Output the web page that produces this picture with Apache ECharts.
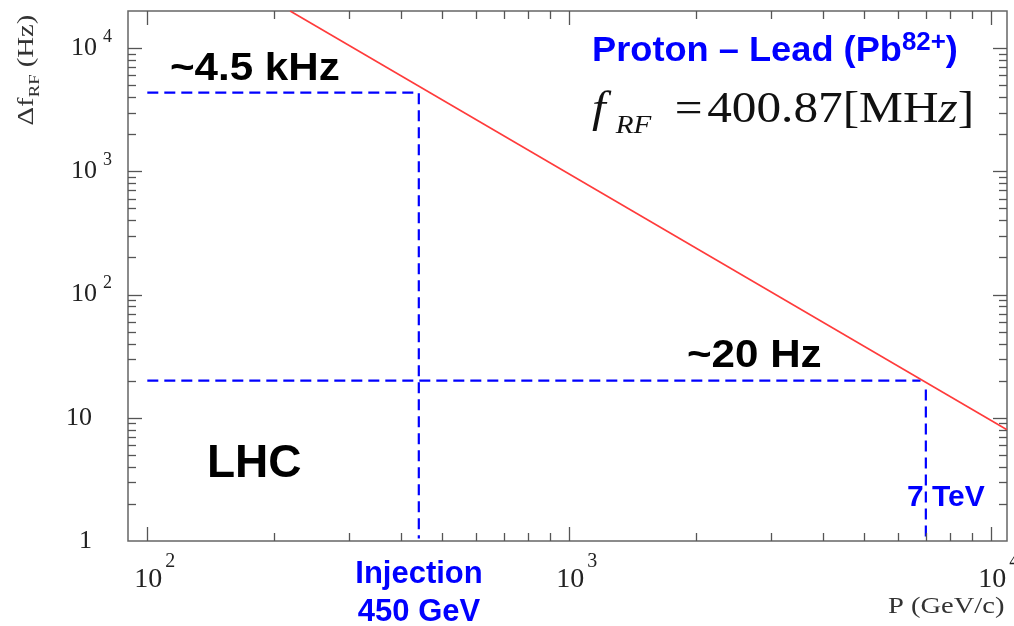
<!DOCTYPE html>
<html><head><meta charset="utf-8">
<script src="https://cdn.jsdelivr.net/npm/echarts@6/dist/echarts.min.js"></script>
<style>html,body{margin:0;padding:0;background:#fff}#c{width:1014px;height:626px}</style>
</head><body><div id="c"></div>
<script>
// ---- data ----
const momentumGeV = [218, 10900];          // P (GeV/c) at the ends of the red line
const deltaFHz = [20000, 8.0];             // Δf_RF (Hz) at those ends
const injectionLineP = [100, 440, 440];    // dashed guide to ~4.5 kHz / 450 GeV
const injectionLineF = [4350, 4350, 1.05];
const flatTopHP = [100, 6800];             // dashed guide to ~20 Hz
const flatTopHF = [20, 20];
const flatTopVP = [7000, 7000];            // dashed guide down to 7 TeV
const flatTopVF = [17, 1];
const xRange = [90, 10900];
const yRange = [1, 20000];
const xDecades = [10, 100, 1000, 10000];
const yDecades = [1, 10, 100, 1000, 10000];

const serif = 'Liberation Serif';
const sans = 'Liberation Sans';
const blue = '#0000ff';

function zip(a, b) { return a.map((v, i) => [v, b[i]]); }
function tickList(decades, lo, hi) {
  const out = [];
  decades.forEach(d => { for (let m = 1; m <= 9; m++) { const v = m * d; if (v > lo * 1.001 && v < hi * 0.999) out.push({ v: v, major: m === 1 }); } });
  return out;
}
const xTicks = tickList(xDecades, xRange[0], xRange[1]);
const yTicks = tickList(yDecades, yRange[0], yRange[1]);

function isDecade(v) { const e = Math.log10(v); return Math.abs(e - Math.round(e)) < 1e-6; }

const chart = echarts.init(document.getElementById('c'), null, { renderer: 'canvas' });
const dashStyle = { color: blue, width: 2.2, type: [11, 6] };

chart.setOption({
  animation: false,
  backgroundColor: '#fff',
  grid: { left: 128, top: 11, right: 7, bottom: 85, containLabel: false, outerBoundsMode: 'none', show: true, borderColor: '#666', borderWidth: 1.5, backgroundColor: 'transparent' },
  xAxis: {
    type: 'log', logBase: 10, min: xRange[0], max: xRange[1],
    axisLine: { show: false }, axisTick: { show: false }, splitLine: { show: false }, minorTick: { show: false },
    axisLabel: {
      margin: 11, showMinLabel: true, showMaxLabel: true, hideOverlap: false,
      formatter: function (v) { if (!isDecade(v)) return ''; const e = Math.round(Math.log10(v)); return '{b|10}{s|' + e + '}'; },
      rich: {
        b: { fontFamily: serif, fontSize: 28, color: '#222', lineHeight: 56, padding: [0, 0, 0, 15] },
        s: { fontFamily: serif, fontSize: 20, color: '#222', verticalAlign: 'top', padding: [0, 0, 0, 3] }
      }
    }
  },
  yAxis: {
    type: 'log', logBase: 10, min: yRange[0], max: yRange[1],
    axisLine: { show: false }, axisTick: { show: false }, splitLine: { show: false }, minorTick: { show: false },
    axisLabel: {
      margin: 16, showMinLabel: true, showMaxLabel: true, hideOverlap: false,
      formatter: function (v) {
        if (!isDecade(v)) return '';
        const e = Math.round(Math.log10(v));
        if (e === 0) return '{p|1}';
        if (e === 1) return '{p|10}';
        return '{b|10}{s|' + e + '}';
      },
      rich: {
        p: { fontFamily: serif, fontSize: 26, color: '#222', lineHeight: 40, padding: [0, 20, 0, 0] },
        b: { fontFamily: serif, fontSize: 26, color: '#222', lineHeight: 40 },
        s: { fontFamily: serif, fontSize: 18, color: '#222', verticalAlign: 'top', padding: [0, 0, 0, 6] }
      }
    }
  },
  series: [
    { type: 'line', data: zip(momentumGeV, deltaFHz), symbol: 'none', lineStyle: { color: '#ff3b3b', width: 1.6 }, clip: true, silent: true, z: 3 },
    { type: 'line', data: zip(injectionLineP, injectionLineF), symbol: 'none', lineStyle: dashStyle, silent: true, z: 2 },
    { type: 'line', data: zip(flatTopHP, flatTopHF), symbol: 'none', lineStyle: dashStyle, silent: true, z: 2 },
    { type: 'line', data: zip(flatTopVP, flatTopVF), symbol: 'none', lineStyle: dashStyle, silent: true, z: 2 },
    {
      type: 'custom', silent: true, z: 4, data: [[100, 10]],
      renderItem: function (params, api) {
        const cs = params.coordSys;
        const ch = [];
        const st = () => ({ stroke: '#555', lineWidth: 1.3 });
        xTicks.forEach(t => {
          const px = Math.round(api.coord([t.v, 10])[0]) + 0.5;
          const len = t.major ? 14 : 8;
          ch.push({ type: 'line', shape: { x1: px, y1: cs.y + cs.height, x2: px, y2: cs.y + cs.height - len }, style: st() });
          ch.push({ type: 'line', shape: { x1: px, y1: cs.y, x2: px, y2: cs.y + len }, style: st() });
        });
        yTicks.forEach(t => {
          const py = Math.round(api.coord([100, t.v])[1]) + 0.5;
          const len = t.major ? 14 : 8;
          ch.push({ type: 'line', shape: { x1: cs.x, y1: py, x2: cs.x + len, y2: py }, style: st() });
          ch.push({ type: 'line', shape: { x1: cs.x + cs.width, y1: py, x2: cs.x + cs.width - len, y2: py }, style: st() });
        });
        return { type: 'group', children: ch };
      }
    }
  ],
  graphic: [
    { type: 'text', x: 27, y: 70, rotation: Math.PI / 2, scaleX: 1.25, silent: true,
      style: { text: '{a|Δf}{r|RF}{a| (Hz)}', align: 'center', verticalAlign: 'middle',
        rich: { a: { fontFamily: serif, fontSize: 23, fill: '#333', lineHeight: 32 }, r: { fontFamily: serif, fontSize: 15, fill: '#333', verticalAlign: 'bottom' } } } },
    { type: 'text', x: 888, y: 607, scaleX: 1.24, silent: true,
      style: { text: 'P (GeV/c)', fontFamily: serif, fontSize: 23, fill: '#333', align: 'left', verticalAlign: 'middle' } },
    { type: 'text', x: 170, y: 69, scaleX: 1.08, silent: true,
      style: { text: '~4.5 kHz', fontFamily: sans, fontWeight: 'bold', fontSize: 39, fill: '#000', align: 'left', verticalAlign: 'middle' } },
    { type: 'text', x: 687, y: 356, scaleX: 1.08, silent: true,
      style: { text: '~20 Hz', fontFamily: sans, fontWeight: 'bold', fontSize: 39, fill: '#000', align: 'left', verticalAlign: 'middle' } },
    { type: 'text', x: 207, y: 464, silent: true,
      style: { text: 'LHC', fontFamily: sans, fontWeight: 'bold', fontSize: 46, fill: '#000', align: 'left', verticalAlign: 'middle' } },
    { type: 'text', x: 907, y: 498, silent: true,
      style: { text: '7 TeV', fontFamily: sans, fontWeight: 'bold', fontSize: 30, fill: blue, align: 'left', verticalAlign: 'middle' } },
    { type: 'text', x: 419, y: 574, silent: true,
      style: { text: 'Injection', fontFamily: sans, fontWeight: 'bold', fontSize: 31, fill: blue, align: 'center', verticalAlign: 'middle' } },
    { type: 'text', x: 419, y: 612, silent: true,
      style: { text: '450 GeV', fontFamily: sans, fontWeight: 'bold', fontSize: 31, fill: blue, align: 'center', verticalAlign: 'middle' } },
    { type: 'text', x: 592, y: 51, scaleX: 1.035, silent: true,
      style: { text: '{p|Proton – Lead (Pb}{s|82+}{p|)}', align: 'left', verticalAlign: 'middle',
        rich: { p: { fontFamily: sans, fontWeight: 'bold', fontSize: 35, fill: blue, lineHeight: 40 }, s: { fontFamily: sans, fontWeight: 'bold', fontSize: 25, fill: blue, verticalAlign: 'top' } } } },
    { type: 'text', x: 592, y: 110, scaleX: 1.12, silent: true,
      style: { text: '{i|f}{sub|RF}{eq|=}{n|400.87[MH}{i|z}{n|]}', align: 'left', verticalAlign: 'middle',
        rich: {
          i: { fontFamily: serif, fontStyle: 'italic', fontSize: 44, fill: '#111', lineHeight: 58 },
          sub: { fontFamily: serif, fontStyle: 'italic', fontSize: 26, fill: '#111', verticalAlign: 'bottom', padding: [0, 0, 0, 9] },
          eq: { fontFamily: serif, fontSize: 44, fill: '#111', lineHeight: 58, padding: [0, 4, 0, 21] },
          n: { fontFamily: serif, fontSize: 44, fill: '#111', lineHeight: 58 }
        } } }
  ]
});
</script></body></html>
